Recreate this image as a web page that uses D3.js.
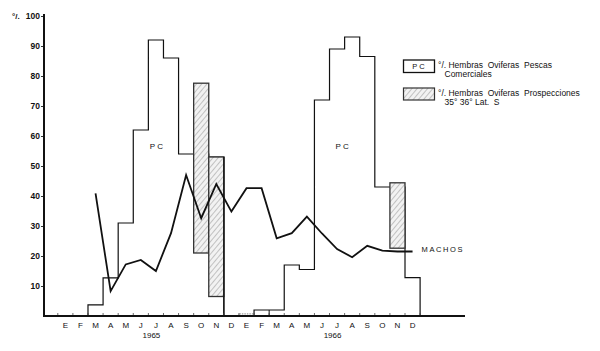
<!DOCTYPE html>
<html><head><meta charset="utf-8">
<script src="https://cdn.jsdelivr.net/npm/d3@7"></script>
<style>
body{margin:0;background:#fff;}
text{font-family:"Liberation Sans","DejaVu Sans",sans-serif;fill:#111;}
</style></head>
<body><svg id="c" width="600" height="351"></svg>
<script>
// ---- data ----
const monthLabels = ["E","F","M","A","M","J","J","A","S","O","N","D","E","F","M","A","M","J","J","A","S","O","N","D"];
const years = [{label:"1965", month:6.2},{label:"1966", month:18.2}];
const yTicks = [10,20,30,40,50,60,70,80,90,100];
// % hembras ovíferas, pescas comerciales (PC): [monthIndex, value]
const pc1965 = [[2,3.7],[3,12.7],[4,31],[5,62],[6,92],[7,86],[8,54],[9,54],[10,53]];
const pcE1966 = [[12,0.7]];
const pc1966 = [[13,2],[14,2],[15,17],[16,15.5],[17,72],[18,89],[19,93],[20,86.5],[21,43],[22,43],[23,12.8]];
// % hembras ovíferas, prospecciones 35°-36° Lat S: [monthIndex, low, high]
const prosp = [[9,21,77.6],[10,6.5,53],[22,22.6,44.4]];
// machos: [monthIndex, value]
const machos = [[2,40.9],[3,8.3],[4,17.2],[5,18.7],[6,15],[7,27.6],[8,47],[9,32.6],[10,44],[11,34.8],
  [12,42.6],[13,42.6],[14,25.9],[15,27.6],[16,33.1],[17,27.5],[18,22.3],[19,19.6],[20,23.4],[21,21.8],[22,21.5],[23,21.5]];

// ---- scales ----
const svg = d3.select("#c");
const x = d3.scaleBand().domain(d3.range(monthLabels.length)).range([57.8,420.1]).padding(0);
const y = d3.scaleLinear().domain([0,100]).range([316,16]);
const cx = i => x(i) + x.bandwidth()/2;

// hatch pattern
const defs = svg.append("defs");
const pat = defs.append("pattern").attr("id","hatch").attr("patternUnits","userSpaceOnUse")
  .attr("width",4).attr("height",4).attr("patternTransform","rotate(40)");
pat.append("rect").attr("width",4).attr("height",4).attr("fill","#f2f2f2");
pat.append("line").attr("x1",0).attr("y1",0).attr("x2",0).attr("y2",4).attr("stroke","#777").attr("stroke-width",0.8);

// PC step outlines
function stepPts(d){
  const pts=[[x(d[0][0]),y(0)]];
  d.forEach(([i,v])=>{pts.push([x(i),y(v)]);pts.push([x(i)+x.bandwidth(),y(v)]);});
  pts.push([x(d[d.length-1][0])+x.bandwidth(),y(0)]);
  return pts;
}
const line = d3.line();
[pc1965,pc1966].forEach(d=>{
  svg.append("path").attr("d",line(stepPts(d))).attr("fill","none").attr("stroke","#111").attr("stroke-width",1.2);
});
svg.append("path").attr("d",line(stepPts(pcE1966))).attr("fill","none").attr("stroke","#888").attr("stroke-width",1).attr("stroke-dasharray","1.5,1");
// divider between F and M 1966
svg.append("line").attr("x1",x(14)).attr("x2",x(14)).attr("y1",y(0)).attr("y2",y(2)).attr("stroke","#111").attr("stroke-width",1);

// prospecciones bars
svg.selectAll("rect.pr").data(prosp).join("rect").attr("class","pr")
  .attr("x",d=>x(d[0])).attr("width",x.bandwidth())
  .attr("y",d=>y(d[2])).attr("height",d=>y(d[1])-y(d[2]))
  .attr("fill","url(#hatch)").attr("stroke","#333").attr("stroke-width",1.3);
// PC right edge continuing down (1965 N)
svg.append("line").attr("x1",x(10)+x.bandwidth()).attr("x2",x(10)+x.bandwidth()).attr("y1",y(53)).attr("y2",y(0)).attr("stroke","#111").attr("stroke-width",1.2);

// machos line
svg.append("path").attr("d",d3.line().x(d=>cx(d[0])).y(d=>y(d[1]))(machos))
  .attr("fill","none").attr("stroke","#111").attr("stroke-width",1.8).attr("stroke-linejoin","miter");

// axes
const ya = svg.append("g").attr("transform","translate(44,0)")
  .call(d3.axisLeft(y).tickValues(yTicks).tickSize(3).tickPadding(1).tickFormat(d3.format("d")));
ya.select(".domain").remove();
ya.selectAll("text").attr("font-size","8.5px").attr("font-weight","bold").style("font-family","Liberation Sans");
ya.selectAll("line").attr("stroke","#333");
svg.append("text").attr("x",12).attr("y",y(100)+3).attr("font-size","8px").attr("font-weight","bold").text("°/.");

const xa = svg.append("g").attr("transform","translate(0,316)")
  .call(d3.axisBottom(x).tickSize(0).tickPadding(6).tickFormat(i=>monthLabels[i]));
xa.select(".domain").remove();
xa.selectAll("text").attr("font-size","8px").style("font-family","Liberation Sans");
// month boundary ticks
svg.selectAll("line.mt").data(d3.range(monthLabels.length+1)).join("line").attr("class","mt")
  .attr("x1",i=>57.8+i*x.step()).attr("x2",i=>57.8+i*x.step()).attr("y1",316).attr("y2",313)
  .attr("stroke","#444").attr("stroke-width",0.8);
svg.append("line").attr("x1",44).attr("x2",44).attr("y1",14).attr("y2",317).attr("stroke","#111").attr("stroke-width",2);
svg.append("line").attr("x1",43).attr("x2",465).attr("y1",316).attr("y2",316).attr("stroke","#111").attr("stroke-width",2);

svg.selectAll("text.yr").data(years).join("text").attr("class","yr")
  .attr("x",d=>x(0)+d.month*x.step()).attr("y",338).attr("text-anchor","middle").attr("font-size","8px").text(d=>d.label);

// labels
[6.6,18.9].forEach(m=>{
  svg.append("text").attr("x",57.8+m*x.step()).attr("y",149).attr("text-anchor","middle")
    .attr("font-size","8px").attr("letter-spacing","2px").text("PC");
});
svg.append("text").attr("x",cx(23)+9).attr("y",252).attr("font-size","7.5px")
  .attr("letter-spacing","1.6px").text("MACHOS");

// legend
const lg = svg.append("g");
lg.append("rect").attr("x",403.5).attr("y",60).attr("width",31).attr("height",12.5).attr("fill","#fff").attr("stroke","#111").attr("stroke-width",1.3);
lg.append("text").attr("x",419.5).attr("y",69).attr("text-anchor","middle").attr("font-size","7.5px").attr("letter-spacing","2px").text("PC");
lg.append("rect").attr("x",403.5).attr("y",88).attr("width",31).attr("height",12).attr("fill","url(#hatch)").attr("stroke","#333").attr("stroke-width",1.2);
const lt = [["°/. Hembras  Oviferas  Pescas",438,68],["Comerciales",444.5,77],["°/. Hembras  Oviferas  Prospecciones",438,96],["35° 36° Lat.  S",444.5,105]];
lg.selectAll("text.lt").data(lt).join("text").attr("class","lt").attr("x",d=>d[1]).attr("y",d=>d[2])
  .attr("font-size","8.5px").attr("xml:space","preserve").style("white-space","pre").text(d=>d[0]);
</script></body></html>
